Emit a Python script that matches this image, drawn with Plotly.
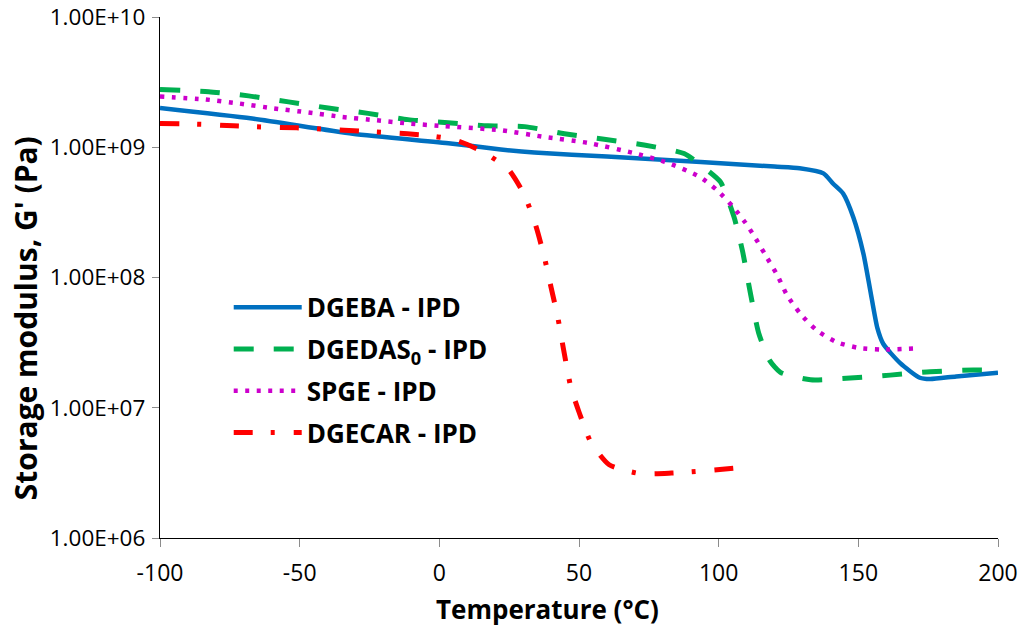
import plotly.graph_objects as go

# Temperature (°C) and storage modulus G' (Pa)
t_dgeba = [-100, -67, -31, 4, 22, 34, 60, 93.6, 120, 129, 137.5, 141, 144.6, 148.2,
           151.8, 154.3, 156.8, 158.9, 165, 172, 175.7, 185, 200]
g_dgeba = [2.0e9, 1.66e9, 1.27e9, 1.07e9, 9.6e8, 9.1e8, 8.5e8, 7.7e8, 7.1e8, 6.9e8, 6.3e8,
           5.25e8, 4.4e8, 2.9e8, 1.53e8, 7.9e7, 4.1e7, 3.1e7, 2.2e7, 1.7e7, 1.66e7, 1.74e7, 1.86e7]

t_dgedas = [-100, -82.6, -68.3, -54, -39.8, -25.5, -11.2, 3.1, 17.4, 30.5, 44.8, 59, 73.3,
            87.6, 96, 100.7, 105.5, 108.5, 111.4, 114.4, 118.3, 122.1, 132.9, 147.1, 161.4,
            175.7, 191.2, 198]
g_dgedas = [2.78e9, 2.67e9, 2.48e9, 2.23e9, 2.0e9, 1.82e9, 1.63e9, 1.54e9, 1.46e9, 1.44e9,
            1.27e9, 1.15e9, 1.04e9, 8.95e8, 6.65e8, 5.4e8, 2.91e8, 1.61e8, 7.5e7, 3.7e7, 2.3e7,
            1.87e7, 1.64e7, 1.69e7, 1.78e7, 1.89e7, 1.95e7, 1.95e7]

t_spge = [-100, -83.8, -71.9, -59.4, -46.9, -35, -22.5, -10.6, 1.9, 22.1, 37.6, 53.1, 69.8,
          81.7, 93, 99.5, 105.2, 109.6, 112.6, 116.8, 121, 124.5, 129.3, 135.3, 142.4, 150.1,
          158.5, 171]
g_spge = [2.45e9, 2.33e9, 2.17e9, 1.99e9, 1.85e9, 1.71e9, 1.61e9, 1.52e9, 1.45e9, 1.35e9,
          1.2e9, 1.08e9, 9.0e8, 7.6e8, 5.96e8, 4.67e8, 3.47e8, 2.63e8, 2.1e8, 1.48e8, 1.04e8,
          7.3e7, 5.25e7, 3.9e7, 3.18e7, 2.88e7, 2.8e7, 2.86e7]

t_dgecar = [-100, -85, -73.7, -62.4, -51.1, -39.8, -28.5, -17.1, -5.8, 4.9, 10, 15.6, 24.5,
            30.5, 34.6, 37.6, 40, 42.4, 44.5, 47.1, 49.9, 54.3, 60.8, 71.5, 83.1, 94.2, 106]
g_dgecar = [1.52e9, 1.5e9, 1.46e9, 1.43e9, 1.41e9, 1.37e9, 1.33e9, 1.29e9, 1.24e9, 1.15e9,
            1.05e9, 9.2e8, 6.85e8, 4.28e8, 2.47e8, 1.43e8, 8.4e7, 4.95e7, 2.78e7, 1.43e7, 9.4e6,
            5.4e6, 3.65e6, 3.13e6, 3.15e6, 3.27e6, 3.44e6]

names = ["DGEBA - IPD", "DGEDAS<sub>0</sub> - IPD", "SPGE - IPD", "DGECAR - IPD"]
y_tickvals = [1e6, 1e7, 1e8, 1e9, 1e10]
y_ticktext = ["1.00E+06", "1.00E+07", "1.00E+08", "1.00E+09", "1.00E+10"]
x_tickvals = [-100, -50, 0, 50, 100, 150, 200]
x_ticktext = ["-100", "-50", "0", "50", "100", "150", "200"]
x_title = "Temperature (°C)"
y_title = "Storage modulus, G' (Pa)"

FONT = "Open Sans"

fig = go.Figure()
fig.add_trace(go.Scatter(x=t_dgeba, y=g_dgeba, mode="lines", name=names[0], legendgroup="a",
                         line=dict(color="#0070C0", width=4.5, shape="spline", smoothing=0.6)))
fig.add_trace(go.Scatter(x=t_dgedas, y=g_dgedas, mode="lines", name=names[1], legendgroup="b",
                         line=dict(color="#00B050", width=5, dash="20px,20px", shape="spline", smoothing=0.6)))
fig.add_trace(go.Scatter(x=t_spge, y=g_spge, mode="lines", name=names[2], legendgroup="c",
                         line=dict(color="#CC00CC", width=4.5, dash="4px,7.5px", shape="spline", smoothing=0.6)))
fig.add_trace(go.Scatter(x=t_dgecar, y=g_dgecar, mode="lines", name=names[3], legendgroup="d",
                         line=dict(color="#FF0000", width=5, dash="19px,18px,4px,19px", shape="spline", smoothing=0.6)))

fig.update_layout(
    width=1025, height=630,
    margin=dict(l=160, r=27, t=17, b=92),
    paper_bgcolor="white", plot_bgcolor="white",
    font=dict(family=FONT, size=22, color="#000000"),
    showlegend=True,
    legend=dict(x=0.082, y=0.488, xanchor="left", yanchor="top",
                font=dict(family=FONT, size=26, color="#000000", weight="bold"),
                bgcolor="rgba(0,0,0,0)", tracegroupgap=5, itemwidth=68),
    xaxis=dict(range=[-100, 200], tickvals=x_tickvals, ticktext=x_ticktext,
               showgrid=False, zeroline=False, automargin=False,
               showline=True, linecolor="#000000", linewidth=1.3,
               ticks="outside", ticklen=8, tickcolor="#8c8c8c", tickwidth=1.3,
               ticklabelstandoff=6, ticklabeloverflow="allow",
               tickfont=dict(family=FONT, size=23, color="#000000")),
    yaxis=dict(type="log", range=[6, 10], tickvals=y_tickvals, ticktext=y_ticktext,
               showgrid=False, zeroline=False, automargin=False,
               showline=True, linecolor="#000000", linewidth=1.3,
               ticks="outside", ticklen=7, tickcolor="#8c8c8c", tickwidth=1.3,
               ticklabelstandoff=2, ticklabeloverflow="allow",
               tickfont=dict(family=FONT, size=22.5, color="#000000")),
    annotations=[
        dict(text=x_title, xref="paper", yref="paper", x=0.463, y=-0.136,
             xanchor="center", yanchor="middle", showarrow=False,
             font=dict(family=FONT, size=26, color="#000000", weight="bold")),
        dict(text=y_title, xref="paper", yref="paper", x=-0.161, y=0.422,
             xanchor="center", yanchor="middle", showarrow=False, textangle=-90,
             font=dict(family=FONT, size=30, color="#000000", weight="bold")),
    ],
)

# remove the page's default body margin so the figure fills the 1025x630 window exactly
fig.write_html("out.html", config={"displayModeBar": False},
               post_script="document.body.style.margin='0';")
